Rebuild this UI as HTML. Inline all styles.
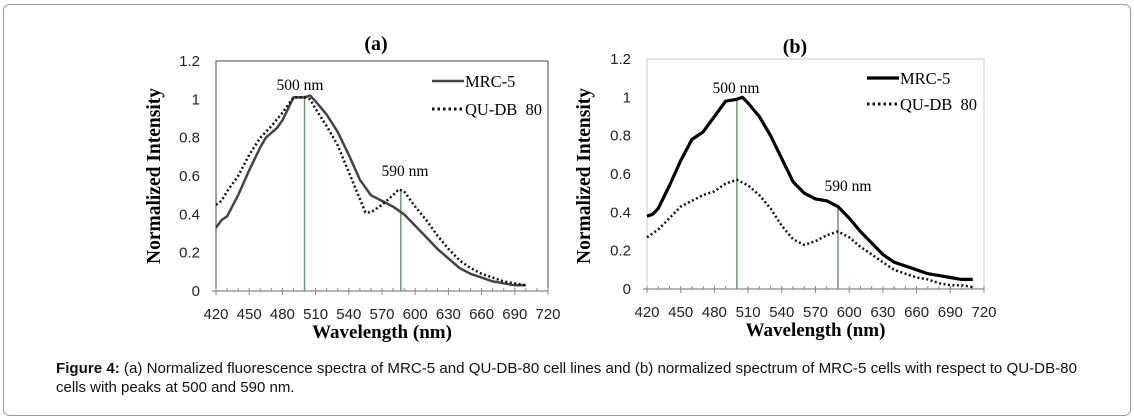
<!DOCTYPE html>
<html><head><meta charset="utf-8"><style>
html,body{margin:0;padding:0;background:#fff;width:1134px;height:420px;overflow:hidden}
</style></head><body>
<svg id="s" width="1134" height="420" xmlns="http://www.w3.org/2000/svg" font-family="Liberation Sans, sans-serif">
<rect x="3.5" y="4.5" width="1127" height="411" rx="6" fill="#fff" stroke="#999" stroke-width="1"/>
<g id="g"></g>
<text x="56" y="373" font-size="15" fill="#111" textLength="1021" lengthAdjust="spacingAndGlyphs"><tspan font-weight="bold">Figure 4:</tspan> (a) Normalized fluorescence spectra of MRC-5 and QU-DB-80 cell lines and (b) normalized spectrum of MRC-5 cells with respect to QU-DB-80</text>
<text x="56" y="392" font-size="15" fill="#111">cells with peaks at 500 and 590 nm.</text>
</svg>
<script>
var g=document.getElementById('g'),h='';
function chart(o){
 var X=function(n){return o.x0+(n-420)*(o.x1-o.x0)/300},Y=function(v){return o.y0-v*(o.y0-o.y12)/1.2};
 h+='<rect x="'+o.x0+'" y="'+o.y12+'" width="'+(o.x1-o.x0)+'" height="'+(o.y0-o.y12)+'" fill="none" stroke="'+o.box+'" stroke-width="1"/>';
 h+='<line x1="'+(o.x0-4)+'" y1="'+o.y0+'" x2="'+o.x1+'" y2="'+o.y0+'" stroke="#888" stroke-width="1.2"/>';
 for(var n=420;n<=720;n+=10){var x=X(n);h+='<line x1="'+x+'" y1="'+(o.y0-3)+'" x2="'+x+'" y2="'+(o.y0+(n%30==0?4:0))+'" stroke="#888"/>';
  if(n%30==0)h+='<text x="'+x+'" y="'+(o.y0+28)+'" font-size="15" text-anchor="middle" fill="#222">'+n+'</text>';}
 [0,0.2,0.4,0.6,0.8,1,1.2].forEach(function(v){h+='<text x="'+(o.x0-16)+'" y="'+(Y(v)+5)+'" font-size="15" text-anchor="end" fill="#222">'+(v==0?'0':v==1?'1':v.toFixed(1))+'</text>';});
 function pl(d,st){var p=d.map(function(q){return X(q[0]).toFixed(1)+','+Y(q[1]).toFixed(1)}).join(' ');h+='<polyline points="'+p+'" fill="none" '+st+' stroke-linejoin="round"/>';}
 h+='<line x1="'+X(500)+'" y1="'+o.y0+'" x2="'+X(500)+'" y2="'+Y(o.g1)+'" stroke="#6a9a78" stroke-width="1.5"/>';
 h+='<line x1="'+X(o.p2)+'" y1="'+o.y0+'" x2="'+X(o.p2)+'" y2="'+Y(o.g2)+'" stroke="#6a9a78" stroke-width="1.5"/>';
 pl(o.a,o.sa);pl(o.b,'stroke="#111" stroke-width="2.5" stroke-dasharray="2,2.5"');
 h+='<text x="'+o.tx+'" y="'+o.ty+'" font-family="Liberation Serif, serif" font-weight="bold" font-size="20" text-anchor="middle">'+o.t+'</text>';
 h+='<text transform="translate('+o.yl+',176) rotate(-90)" font-family="Liberation Serif, serif" font-weight="bold" font-size="19.5" text-anchor="middle">Normalized Intensity</text>';
 h+='<text x="'+((o.x0+o.x1)/2)+'" y="'+(o.y0+47)+'" font-family="Liberation Serif, serif" font-weight="bold" font-size="19" text-anchor="middle">Wavelength (nm)</text>';
 o.an.forEach(function(a){h+='<text x="'+a[0]+'" y="'+a[1]+'" font-family="Liberation Serif, serif" font-size="15.5" text-anchor="middle">'+a[2]+'</text>';});
 var L=o.leg;h+='<line x1="'+L[0]+'" y1="'+L[1]+'" x2="'+(L[0]+32)+'" y2="'+L[1]+'" '+o.sa+'/>';
 h+='<line x1="'+L[0]+'" y1="'+L[2]+'" x2="'+(L[0]+32)+'" y2="'+L[2]+'" stroke="#111" stroke-width="3" stroke-dasharray="2.5,3"/>';
 h+='<text x="'+(L[0]+33)+'" y="'+(L[1]+6)+'" font-family="Liberation Serif, serif" font-size="16.5">MRC-5</text>';
 h+='<text x="'+(L[0]+33)+'" y="'+(L[2]+6)+'" font-family="Liberation Serif, serif" font-size="16.5">QU-DB&#160;&#160;80</text>';
}
chart({x0:216,x1:548,y0:291,y12:61,box:'#444',t:'(a)',tx:376,ty:50,yl:160,p2:587,g1:1.02,g2:0.52,
 sa:'stroke="#444" stroke-width="2.5"',leg:[432,81,109],
 an:[[300,90,'500 nm'],[405,176,'590 nm']],
 a:[[420,.33],[425,.37],[430,.39],[440,.5],[450,.63],[460,.75],[465,.8],[475,.85],[480,.89],[490,1.01],[500,1.01],[505,1.02],[510,.99],[520,.92],[530,.83],[540,.71],[550,.58],[560,.5],[570,.47],[580,.44],[590,.4],[600,.34],[610,.28],[620,.22],[630,.17],[640,.12],[650,.09],[660,.07],[670,.05],[680,.04],[690,.03],[700,.03]],
 b:[[420,.45],[425,.47],[430,.52],[440,.6],[450,.71],[460,.8],[470,.86],[480,.93],[490,1.01],[500,1.01],[505,1.0],[510,.95],[520,.86],[530,.76],[540,.62],[550,.48],[555,.41],[560,.41],[570,.45],[580,.5],[585,.53],[590,.52],[600,.44],[610,.37],[620,.29],[630,.22],[640,.16],[650,.12],[660,.09],[670,.07],[680,.05],[690,.04],[700,.03]]});
chart({x0:647,x1:984,y0:289,y12:59,box:'#ccc',t:'(b)',tx:795,ty:53,yl:590,p2:590,g1:1.0,g2:0.43,
 sa:'stroke="#000" stroke-width="3.2"',leg:[867,78,104],
 an:[[736,93,'500 nm'],[848,191,'590 nm']],
 a:[[420,.38],[425,.39],[430,.42],[440,.54],[450,.67],[460,.78],[470,.82],[480,.9],[490,.98],[500,.99],[505,1.0],[510,.97],[520,.9],[530,.8],[540,.68],[550,.56],[560,.5],[570,.47],[580,.46],[590,.43],[600,.37],[610,.3],[620,.24],[630,.18],[640,.14],[650,.12],[660,.1],[670,.08],[680,.07],[690,.06],[700,.05],[710,.05]],
 b:[[420,.27],[430,.31],[440,.37],[450,.43],[460,.46],[470,.49],[480,.51],[490,.55],[500,.57],[510,.54],[520,.49],[530,.42],[540,.33],[550,.26],[560,.23],[570,.25],[580,.28],[590,.3],[600,.27],[610,.22],[620,.18],[630,.14],[640,.1],[650,.08],[660,.06],[670,.05],[680,.03],[690,.02],[700,.02],[710,.01]]});
g.innerHTML=h;
</script>
</body></html>
